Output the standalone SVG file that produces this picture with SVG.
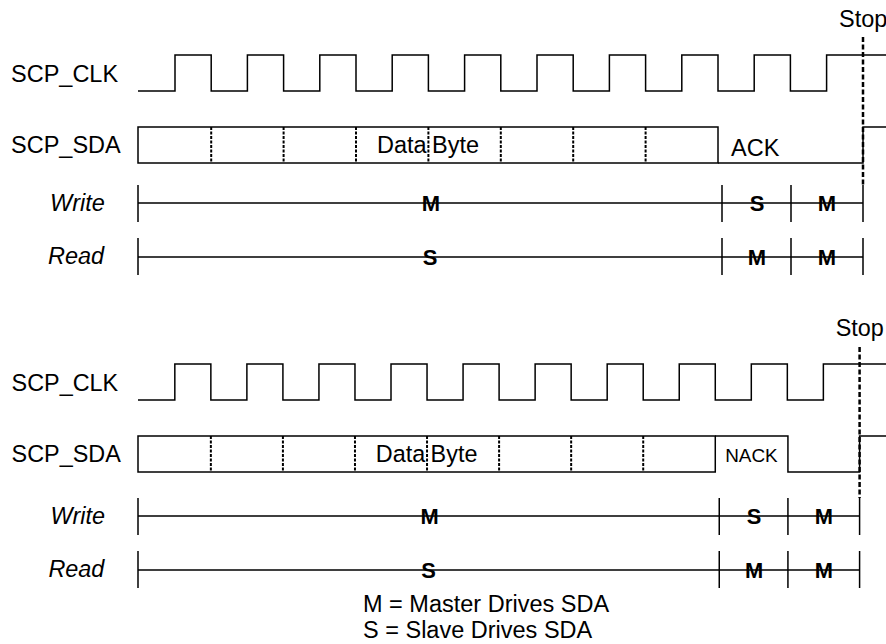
<svg xmlns="http://www.w3.org/2000/svg" width="886" height="644" viewBox="0 0 886 644">
<style>
text{font-family:"Liberation Sans",Arial,sans-serif;font-size:23.5px;fill:#000}
.it{font-style:italic}
.b{font-weight:bold;font-size:22px;text-anchor:middle}
.sm{font-size:19px}
.w{fill:none;stroke:#000;stroke-width:1.5}
.sep{stroke:#000;stroke-width:2;stroke-dasharray:3 1.5}
.stop{stroke:#000;stroke-width:2.5;stroke-dasharray:5 2.5}
.ln{stroke:#000;stroke-width:1.5}
</style>
<defs>
<path id="clk" class="w" d="M138,91 H175 V55 H211.2 V91 H247.4 V55 H283.6 V91 H319.8 V55 H356 V91 H392.2 V55 H428.4 V91 H464.6 V55 H500.8 V91 H537 V55 H573.2 V91 H609.4 V55 H645.6 V91 H681.8 V55 H718 V91 H754.2 V55 H790.4 V91 H826.6 V55 H890"/>
<g id="box">
<rect class="w" x="138" y="127" width="580" height="36"/>
<path class="sep" d="M211.2,127V163M283.6,127V163M356,127V163M428.4,127V163M500.8,127V163M573.2,127V163M645.6,127V163"/>
<text x="377" y="153">Data</text>
<text x="432" y="153">Byte</text>
</g>
<g id="rows">
<path class="ln" d="M138,203H863M138,185V222M722,185V222M791,185V222M863,185V222"/>
<path class="ln" d="M138,257H863M138,238V275M722,238V275M791,238V275M863,238V275"/>
<text class="it" x="50" y="211">Write</text>
<text class="it" x="48" y="264">Read</text>
</g>
</defs>

<g id="top-signals">
<text x="11" y="82">SCP_CLK</text>
<text x="11" y="153">SCP_SDA</text>
<use href="#clk"/>
<use href="#box"/>
<path class="w" d="M718,163H863V127H890"/>
<text x="731" y="156">ACK</text>
<text x="839" y="27">Stop</text>
<line class="stop" x1="863" y1="37" x2="863" y2="187"/>
</g>
<g id="top-rows">
<use href="#rows"/>
<text class="b" x="431" y="211">M</text>
<text class="b" x="757" y="211">S</text>
<text class="b" x="827" y="211">M</text>
<text class="b" x="430" y="265">S</text>
<text class="b" x="757" y="265">M</text>
<text class="b" x="827" y="265">M</text>
</g>

<g id="bottom-signals" transform="translate(0,309) translate(138,0) scale(0.9953,1) translate(-138,0)">
<text x="11" y="82">SCP_CLK</text>
<text x="11" y="153">SCP_SDA</text>
<use href="#clk"/>
<use href="#box"/>
<path class="w" d="M718,127H791V163H863V127H890"/>
<text class="sm" x="728" y="153">NACK</text>
<text x="839" y="27">Stop</text>
<line class="stop" x1="863" y1="38" x2="863" y2="189"/>
</g>
<g id="bottom-rows" transform="translate(0,313) translate(138,0) scale(0.9953,1) translate(-138,0)">
<use href="#rows"/>
<text class="b" x="431" y="211">M</text>
<text class="b" x="757" y="211">S</text>
<text class="b" x="827" y="211">M</text>
<text class="b" x="430" y="265">S</text>
<text class="b" x="757" y="265">M</text>
<text class="b" x="827" y="265">M</text>
</g>

<g id="legend">
<text x="363" y="612">M = Master Drives SDA</text>
<text x="363" y="638">S = Slave Drives SDA</text>
</g>
</svg>
